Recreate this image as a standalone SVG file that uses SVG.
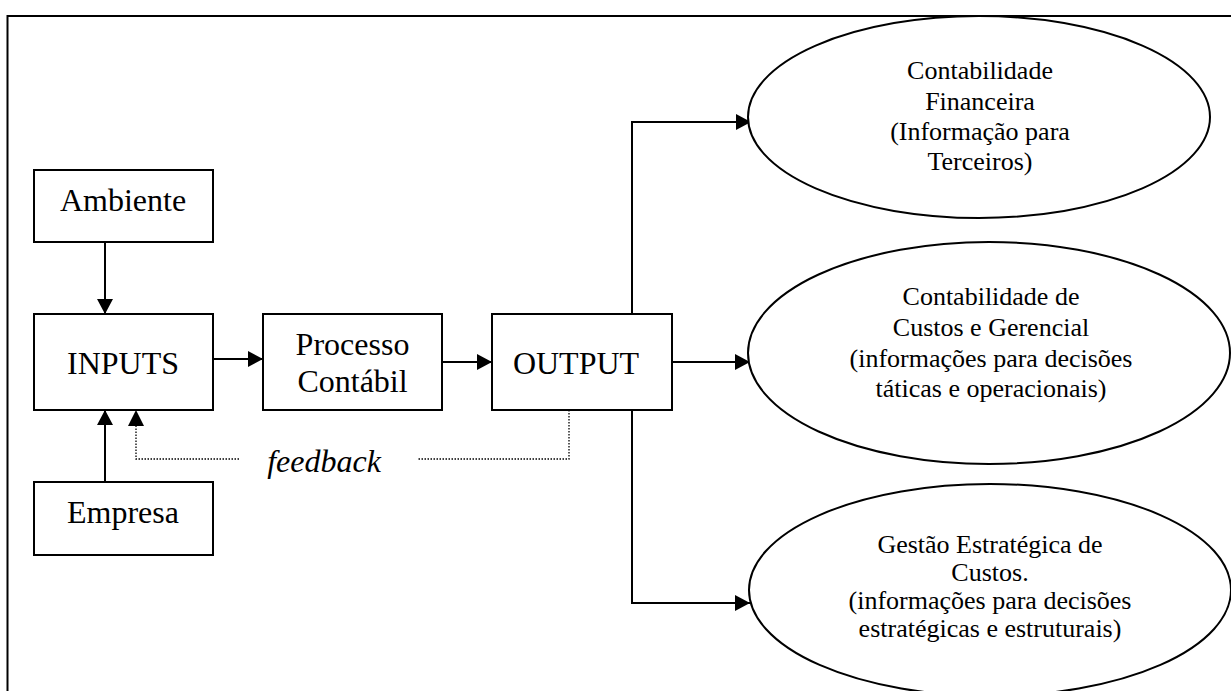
<svg xmlns="http://www.w3.org/2000/svg" width="1231" height="691" viewBox="0 0 1231 691">
<defs>
<style>
.box{fill:#fff;stroke:#000;stroke-width:2}
.ell{fill:#fff;stroke:#000;stroke-width:2}
.ln{fill:none;stroke:#000;stroke-width:2}
.dot{fill:none;stroke:#000;stroke-width:1.3;stroke-dasharray:1.5 1.5}
.t{font-family:"Liberation Serif","Times New Roman",serif;font-size:32px;fill:#000;text-anchor:middle}
.e{font-family:"Liberation Serif","Times New Roman",serif;font-size:26px;fill:#000;text-anchor:middle}
.i{font-family:"Liberation Serif","Times New Roman",serif;font-size:32px;font-style:italic;fill:#000;text-anchor:middle}
</style>
<marker id="ah" markerWidth="15" markerHeight="16" refX="15" refY="8" orient="auto" markerUnits="userSpaceOnUse">
<path d="M0,0 L15,8 L0,16 Z" fill="#000"/>
</marker>
</defs>
<rect width="1231" height="691" fill="#fff"/>
<g id="frame">
<path class="ln" d="M7.5,691 L7.5,16 L1231,16"/>
</g>
<g id="connectors">
<path class="ln" d="M105,242 L105,314" marker-end="url(#ah)"/>
<path class="ln" d="M105,482 L105,410" marker-end="url(#ah)"/>
<path class="ln" d="M213,359 L263,359" marker-end="url(#ah)"/>
<path class="ln" d="M442,362 L492,362" marker-end="url(#ah)"/>
<path class="ln" d="M632,314 L632,122 L751,122" marker-end="url(#ah)"/>
<path class="ln" d="M672,362 L750,362" marker-end="url(#ah)"/>
<path class="ln" d="M632,410 L632,603 L750,603" marker-end="url(#ah)"/>
<path class="dot" d="M569,410 L569,459 L418,459"/>
<path class="dot" d="M239,459 L136,459 L136,412"/>
<path d="M128,426 L136,410 L144,426 Z" fill="#000"/>
<text class="i" x="324" y="472">feedback</text>
</g>
<g id="ambiente">
<rect class="box" x="34" y="170" width="179" height="72"/>
<text class="t" x="123" y="211">Ambiente</text>
</g>
<g id="inputs">
<rect class="box" x="34" y="314" width="179" height="96"/>
<text class="t" x="123" y="374">INPUTS</text>
</g>
<g id="empresa">
<rect class="box" x="34" y="482" width="179" height="73"/>
<text class="t" x="123" y="523">Empresa</text>
</g>
<g id="processo">
<rect class="box" x="263" y="314" width="179" height="96"/>
<text class="t" x="352.5" y="355">Processo</text>
<text class="t" x="352.5" y="392">Contábil</text>
</g>
<g id="output">
<rect class="box" x="492" y="314" width="180" height="96"/>
<text class="t" x="576" y="374">OUTPUT</text>
</g>
<g id="financeira">
<ellipse class="ell" cx="979" cy="117" rx="231" ry="101"/>
<text class="e" x="980" y="79">Contabilidade</text>
<text class="e" x="980" y="110">Financeira</text>
<text class="e" x="980" y="140">(Informação para</text>
<text class="e" x="980" y="170">Terceiros)</text>
</g>
<g id="custos">
<ellipse class="ell" cx="989" cy="353" rx="241" ry="111"/>
<text class="e" x="991" y="305">Contabilidade de</text>
<text class="e" x="991" y="336">Custos e Gerencial</text>
<text class="e" x="991" y="367">(informações para decisões</text>
<text class="e" x="991" y="397">táticas e operacionais)</text>
</g>
<g id="estrategica">
<ellipse class="ell" cx="990" cy="590" rx="241" ry="106"/>
<text class="e" x="990" y="553">Gestão Estratégica de</text>
<text class="e" x="990" y="581">Custos.</text>
<text class="e" x="990" y="609">(informações para decisões</text>
<text class="e" x="990" y="637">estratégicas e estruturais)</text>
</g>
</svg>
